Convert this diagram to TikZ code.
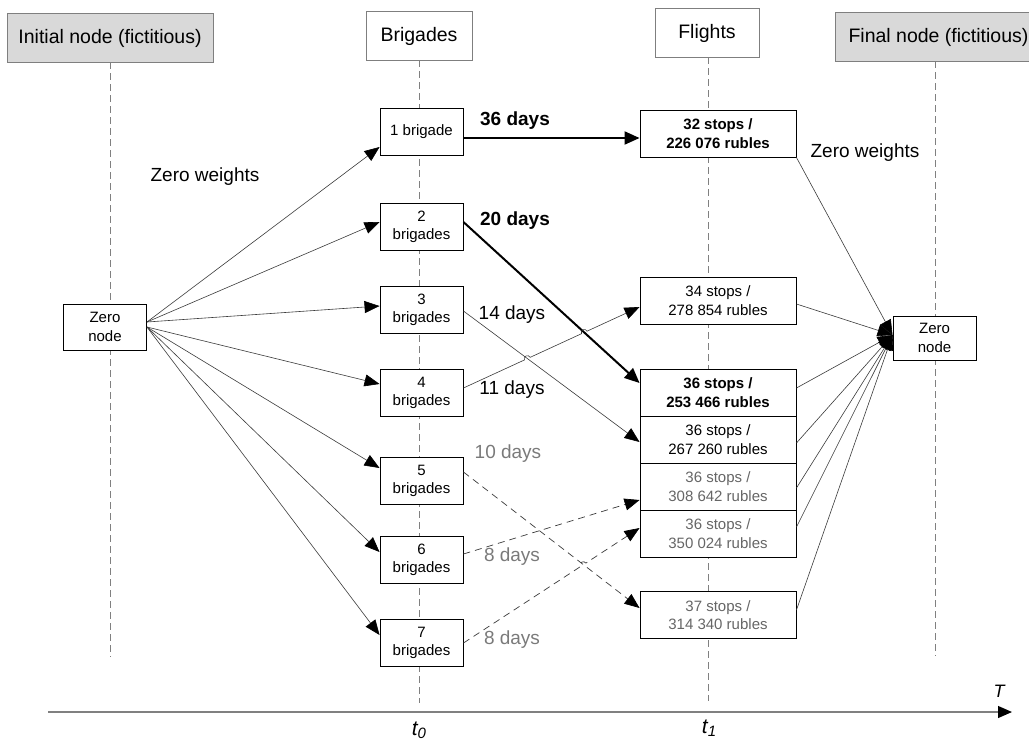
\documentclass[tikz,border=0pt]{standalone}
\usepackage{fontspec}
\setmainfont{Liberation Sans}
\usetikzlibrary{arrows.meta,calc}
\definecolor{hdrfill}{HTML}{D9D9D9}
\definecolor{hdrline}{HTML}{7F7F7F}
\definecolor{vline}{HTML}{808080}
\definecolor{edgec}{HTML}{3A3A3A}
\definecolor{graytxt}{HTML}{7A7A7A}
\definecolor{graybox}{HTML}{666666}
\begin{document}
\begin{tikzpicture}[x=1pt,y=-1pt,
  hdr/.style={draw=hdrline, line width=1pt, minimum height=49pt, inner sep=0pt, fill=white, font=\fontsize{19.5}{22}\selectfont},
  box/.style={draw=black, line width=0.9pt, fill=white, inner sep=0pt, align=center, font=\fontsize{15}{18.5}\selectfont, minimum height=47pt},
  brig/.style={box, minimum width=83pt},
  flt/.style={box, minimum width=156pt},
  zbox/.style={box, minimum width=83pt, minimum height=45pt},
  vdash/.style={draw=vline, line width=0.9pt, dash pattern=on 7pt off 4pt},
  tip/.style={-{Triangle[length=15pt,width=12pt,color=black]}},
  edge/.style={draw=edgec, line width=0.6pt, tip},
  thick edge/.style={draw=black, line width=2pt, -{Triangle[length=15pt,width=13pt]}},
  dedge/.style={draw=edgec, line width=0.7pt, dash pattern=on 7pt off 5pt, tip},
  lbl/.style={inner sep=0pt, font=\fontsize{19}{22}\selectfont},
  glbl/.style={lbl, text=graytxt},
  axis/.style={draw=vline, line width=1.2pt, -{Triangle[length=14pt,width=12pt,color=black]}}
]
\useasboundingbox (0,0) rectangle (1029,740);

% vertical time lines
\coordinate (v1a) at (110,62);  \coordinate (v1b) at (110,657);
\coordinate (v2a) at (419,60);  \coordinate (v2b) at (419,703);
\coordinate (v3a) at (708,57);  \coordinate (v3b) at (708,701);
\coordinate (v4a) at (935,61);  \coordinate (v4b) at (935,656);
\draw[vdash] (v1a) -- (v1b);
\draw[vdash] (v2a) -- (v2b);
\draw[vdash] (v3a) -- (v3b);
\draw[vdash] (v4a) -- (v4b);

% axis
\coordinate (ax0) at (48,712);
\coordinate (ax1) at (1012,712);
\draw[axis] (ax0) -- (ax1);
\node[inner sep=0pt, font=\fontsize{18}{20}\selectfont\itshape] (T) at (999,691) {T};
\node[inner sep=0pt, font=\fontsize{21}{24}\selectfont\itshape] (t0) at (419,730) {t\raisebox{-0.25ex}{\fontsize{15}{16}\selectfont 0}};
\node[inner sep=0pt, font=\fontsize{21}{24}\selectfont\itshape] (t1) at (709,728) {t\raisebox{-0.25ex}{\fontsize{15}{16}\selectfont 1}};

% headers
\node[hdr, fill=hdrfill, minimum width=206pt] (hinit) at (110,38) {Initial node (fictitious)};
\node[hdr, minimum width=106pt] (hbrig) at (419,36) {Brigades};
\node[hdr, minimum width=104pt] (hflt) at (707,33) {Flights};
\node[hdr, fill=hdrfill, minimum width=207pt] (hfin) at (938.5,37) {Final node (fictitious)};

% zero nodes
\node[zbox, minimum height=46pt] (zl) at (105,327) {Zero\\node};
\node[zbox, minimum height=44pt] (zr) at (934.5,338) {Zero\\node};

% brigades
\node[brig] (b1) at (421.5,132) {1 brigade};
\node[brig] (b2) at (421.5,227) {2\\brigades};
\node[brig] (b3) at (421.5,310) {3\\brigades};
\node[brig] (b4) at (421.5,393) {4\\brigades};
\node[brig] (b5) at (421.5,481) {5\\brigades};
\node[brig] (b6) at (421.5,560) {6\\brigades};
\node[brig] (b7) at (421.5,643) {7\\brigades};

% flights
\node[flt, font=\fontsize{15}{18.5}\selectfont\bfseries] (f32) at (718,133.5) {32 stops /\\226 076 rubles};
\node[flt] (f34) at (718,300.5) {34 stops /\\278 854 rubles};
\node[flt, font=\fontsize{15}{18.5}\selectfont\bfseries] (f253) at (718,392.5) {36 stops /\\253 466 rubles};
\node[flt] (f267) at (718,439.5) {36 stops /\\267 260 rubles};
\node[flt, text=graybox] (f308) at (718,486.5) {36 stops /\\308 642 rubles};
\node[flt, text=graybox] (f350) at (718,533.5) {36 stops /\\350 024 rubles};
\node[flt, text=graybox] (f37) at (718,615) {37 stops /\\314 340 rubles};

% labels
\node[lbl] (zw1) at (205,177) {Zero weights};
\node[lbl] (zw2) at (865,153) {Zero weights};
\node[lbl, font=\fontsize{19}{22}\selectfont\bfseries] (d36) at (515,121) {36 days};
\node[lbl, font=\fontsize{19}{22}\selectfont\bfseries] (d20) at (515,221) {20 days};
\node[lbl] (d14) at (512,315) {14 days};
\node[lbl] (d11) at (512,390) {11 days};
\node[glbl] (d10) at (508,454) {10 days};
\node[glbl] (d8a) at (512,557) {8 days};
\node[glbl] (d8b) at (512,640) {8 days};

% zero node -> brigades
\coordinate (zlu) at ([yshift=5pt]zl.east);
\draw[edge] (zlu) -- ([yshift=-15pt]b1.west);
\draw[edge] (zlu) -- ([yshift=5pt]b2.west);
\draw[edge] (zlu) -- ([yshift=4pt]b3.west);
\draw[edge] (zl.east) -- ([yshift=9pt]b4.west);
\draw[edge] (zl.east) -- ([yshift=13pt]b5.west);
\draw[edge] (zl.east) -- ([yshift=8pt]b6.west);
\draw[edge] (zl.east) -- ([yshift=8pt]b7.west);

% brigades -> flights
\draw[thick edge] ([yshift=-6pt]b1.east) -- ([yshift=-4.5pt]f32.west);
\coordinate (s2) at ([yshift=5pt]b2.east);
\coordinate (e253) at ([yshift=9.5pt]f253.west);
\draw[thick edge] (s2) -- (e253);
\coordinate (s3) at ([yshift=-1pt]b3.east);
\coordinate (e267) at ([yshift=-2.5pt]f267.west);
\draw[edge] (s3) -- (e267);
\coordinate (s4) at ([yshift=5pt]b4.east);
\coordinate (e34) at ([yshift=-6.5pt]f34.west);
\coordinate (j1) at ($(s4)!0.363!(e34)$);
\coordinate (j1a) at ($(j1)!3pt!(s4)$);
\coordinate (j2) at ($(s4)!0.686!(e34)$);
\coordinate (j2a) at ($(j2)!3pt!(s4)$);
\draw[edge] (s4) -- (j1a) arc[start angle=204.6, end angle=24.6, radius=3pt] -- (j2a) arc[start angle=204.6, end angle=24.6, radius=3pt] -- (e34);

\coordinate (s5) at ([yshift=9pt]b5.east);
\coordinate (e37) at ([yshift=7pt]f37.west);
\draw[dedge] (s5) -- (e37);
\draw[dedge] ([yshift=6pt]b6.east) -- ([yshift=-13.5pt]f308.west);
\coordinate (s7) at (b7.east);
\coordinate (e350) at ([yshift=5.5pt]f350.west);
\coordinate (j3) at ($(s7)!0.681!(e350)$);
\coordinate (j3a) at ($(j3)!3pt!(s7)$);
\draw[dedge] (s7) -- (j3a) arc[start angle=213, end angle=33, radius=3pt] -- (e350);

% flights -> final zero node
\coordinate (zin) at ([yshift=3pt]zr.west);
\draw[edge] (f32.south east) -- (zin);
\draw[edge] ([yshift=-3.5pt]f34.east) -- (zin);
\draw[edge] ([yshift=4.5pt]f253.east) -- (zin);
\draw[edge] ([yshift=-3.5pt]f267.east) -- (zin);
\draw[edge] ([yshift=-1.5pt]f308.east) -- (zin);
\draw[edge] ([yshift=6.5pt]f350.east) -- (zin);
\draw[edge] ([yshift=5pt]f37.east) -- (zin);
\end{tikzpicture}
\end{document}
